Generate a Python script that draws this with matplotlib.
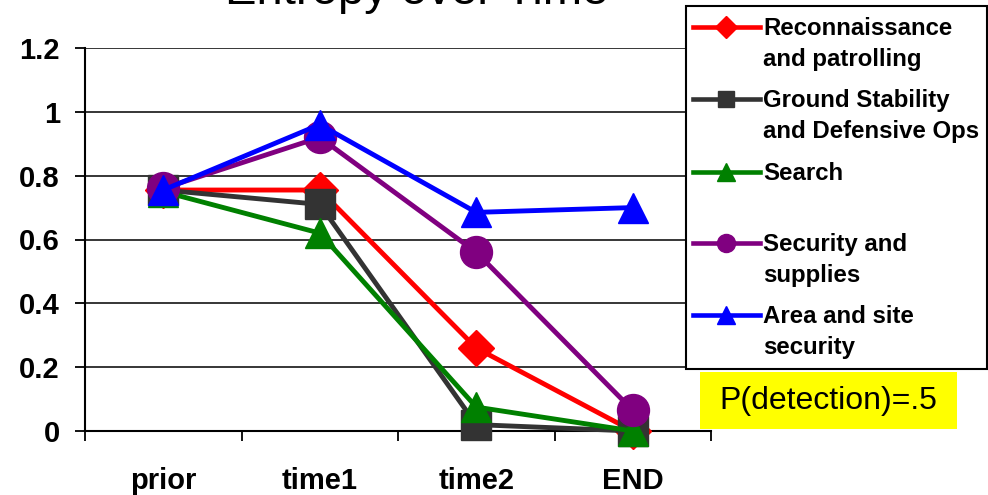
import matplotlib
matplotlib.use("Agg")
import matplotlib.pyplot as plt
from matplotlib.lines import Line2D
from matplotlib.patches import Rectangle

plt.rcParams['font.family'] = ['Liberation Sans', 'DejaVu Sans']

# datos
etapas = ["prior", "time1", "time2", "END"]
nombres = ["Reconnaissance\nand patrolling",
           "Ground Stability\nand Defensive Ops",
           "Search",
           "Security and\nsupplies",
           "Area and site\nsecurity"]
recon = [0.755, 0.755, 0.26, 0.0]
ground = [0.755, 0.71, 0.02, 0.0]
search = [0.75, 0.62, 0.075, 0.0]
security = [0.76, 0.92, 0.56, 0.065]
area = [0.755, 0.96, 0.685, 0.70]
series = [recon, ground, search, security, area]

colores = ["#FF0000", "#333333", "#008000", "#800080", "#0000FF"]
marcas = ["D", "s", "^", "o", "^"]
tam = [18, 21, 22, 23, 22]
tam_leyenda = [11, 12, 13, 13, 13]

W, H = 988, 495
fig = plt.figure(figsize=(W / 100, H / 100), dpi=100)

def fx(px):
    return px / W

def fy(py):
    return 1 - py / H

ax = fig.add_axes([fx(85), fy(431), fx(711) - fx(85), fy(48) - fy(431)])

x = list(range(len(etapas)))
for s, c, m, ms in zip(series, colores, marcas, tam):
    ax.plot(x, s, color=c, marker=m, markersize=ms, markeredgecolor=c,
            linewidth=3.5, clip_on=False, zorder=3)

ax.set_xlim(-0.5, len(etapas) - 0.5)
ax.set_ylim(0, 1.2)
ax.set_yticks([0, 0.2, 0.4, 0.6, 0.8, 1, 1.2])
ax.set_yticklabels(["0", "0.2", "0.4", "0.6", "0.8", "1", "1.2"])
ax.yaxis.grid(True, color="black", linewidth=1.1)
ax.set_axisbelow(True)

# ticks en los limites, etiquetas en el centro
ax.set_xticks([i + 0.5 for i in range(-1, len(etapas))])
ax.set_xticklabels([])
ax.set_xticks(x, minor=True)
ax.set_xticklabels(etapas, minor=True)
ax.tick_params(axis="x", which="major", length=7, width=1.3, direction="out")
ax.tick_params(axis="x", which="minor", length=0, pad=26)
ax.tick_params(axis="y", length=7, width=1.3, direction="out", pad=11)
for lab in ax.get_xticklabels(minor=True) + ax.get_yticklabels():
    lab.set_fontsize(21)
    lab.set_fontweight("bold")

for lado in ["top", "right"]:
    ax.spines[lado].set_visible(False)
for lado in ["left", "bottom"]:
    ax.spines[lado].set_linewidth(1.5)
    ax.spines[lado].set_color("black")

fig.text(fx(417), fy(4), "Entropy over Time", fontsize=34, ha="center", va="baseline")

# leyenda manual (el marcador va con la primera linea del texto)
fig.patches.append(Rectangle((fx(686), fy(369)), fx(987) - fx(686), fy(6) - fy(369),
                             transform=fig.transFigure, facecolor="white",
                             edgecolor="black", linewidth=1.5, zorder=5))
filas = [27, 99, 172, 243, 315]
for yy, nom, c, m, ms in zip(filas, nombres, colores, marcas, tam_leyenda):
    fig.add_artist(Line2D([fx(693), fx(760)], [fy(yy), fy(yy)], color=c, linewidth=3.3,
                          transform=fig.transFigure, zorder=6))
    fig.add_artist(Line2D([fx(726)], [fy(yy)], color=c, marker=m, markersize=ms,
                          markeredgecolor=c, transform=fig.transFigure, zorder=7))
    fig.text(fx(763), fy(yy - 10), nom, fontsize=17.3, fontweight="bold", ha="left",
             va="top", linespacing=1.45, zorder=8)

# cuadro amarillo
fig.patches.append(Rectangle((fx(700), fy(429)), fx(957) - fx(700), fy(372) - fy(429),
                             transform=fig.transFigure, facecolor="#FFFF00",
                             edgecolor="none", zorder=5))
fig.text(fx(828), fy(401), "P(detection)=.5", fontsize=23, ha="center", va="center", zorder=8)

fig.savefig("out.png", dpi=100)
